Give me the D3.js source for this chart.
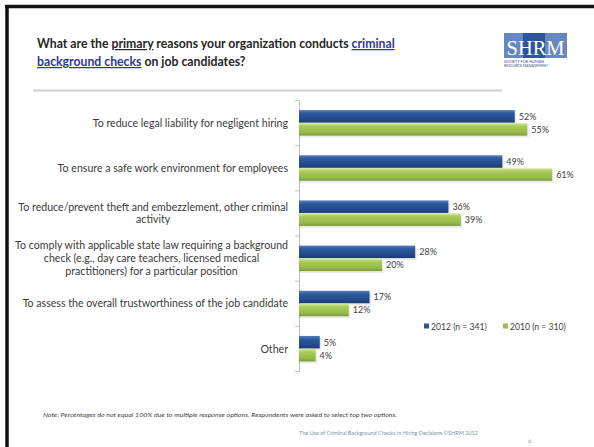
<!DOCTYPE html>
<html>
<head>
<meta charset="utf-8">
<script src="https://cdn.jsdelivr.net/npm/d3@7/dist/d3.min.js"></script>
<style>
  html, body { margin: 0; padding: 0; background: #fff; }
  svg { display: block; font-family: Lato, "Open Sans", sans-serif; }
</style>
</head>
<body>
<svg id="chart" width="594" height="447"></svg>
<script>
// Survey: primary reasons organizations run criminal background checks
const categories = [
  "To reduce legal liability for negligent hiring",
  "To ensure a safe work environment for employees",
  "To reduce/prevent theft and embezzlement, other criminal|activity",
  "To comply with applicable state law requiring a background|check (e.g., day care teachers, licensed medical|practitioners) for a particular position",
  "To assess the overall trustworthiness of the job candidate",
  "Other"
];
const seriesNames = ["2012 (n = 341)", "2010 (n = 310)"];
const values2012 = [52, 49, 36, 28, 17, 5];
const values2010 = [55, 61, 39, 20, 12, 4];
const seriesColors = ["#2a5191", "#9dc04c"];

const svg = d3.select("#chart");
const defs = svg.append("defs");

// Bevelled bar fills
const gradStops = [
  [["0%", "#5b7fbd"], ["25%", "#2e5aa0"], ["75%", "#24498a"], ["100%", "#1a3a72"]],
  [["0%", "#d3e99c"], ["25%", "#a8cb5a"], ["75%", "#96b94a"], ["100%", "#7a9a38"]]
];
gradStops.forEach((stops, i) => {
  const g = defs.append("linearGradient").attr("id", "grad" + i)
    .attr("x1", 0).attr("y1", 0).attr("x2", 0).attr("y2", 1);
  stops.forEach(s => g.append("stop").attr("offset", s[0]).attr("stop-color", s[1]));
});

// Slide frame
svg.append("rect").attr("x", 0).attr("y", 0).attr("width", 594).attr("height", 447).attr("fill", "#fff");
svg.append("line").attr("x1", 7).attr("x2", 7).attr("y1", 5).attr("y2", 447)
  .attr("stroke", "#111").attr("stroke-width", 3.5);
svg.append("line").attr("x1", 5).attr("x2", 594).attr("y1", 6.5).attr("y2", 6.5)
  .attr("stroke", "#111").attr("stroke-width", 3.5);

// Title
const titleSize = 12.25;
const title = svg.append("text").attr("x", 37).attr("y", 48)
  .attr("font-size", titleSize).attr("font-weight", "bold").attr("fill", "#262626");
const linkColor = "#2e3a94";
const t1 = [
  ["What are the ", null, false],
  ["primary", null, true],
  [" reasons your organization conducts ", null, false],
  ["criminal", linkColor, true]
];
t1.forEach(([s, c, u]) => {
  const ts = title.append("tspan").text(s);
  if (c) ts.attr("fill", c);
  if (u) ts.attr("text-decoration", "underline");
});
const title2 = svg.append("text").attr("x", 37).attr("y", 66)
  .attr("font-size", titleSize).attr("font-weight", "bold").attr("fill", "#262626");
title2.append("tspan").text("background checks").attr("fill", linkColor).attr("text-decoration", "underline");
title2.append("tspan").text(" on job candidates?");

// Separator under title
svg.append("line").attr("x1", 33).attr("x2", 502).attr("y1", 90.5).attr("y2", 90.5)
  .attr("stroke", "#d0d0d0").attr("stroke-width", 2);

// SHRM logo
const logo = svg.append("g").attr("transform", "translate(504,33)");
logo.append("rect").attr("width", 63).attr("height", 25).attr("fill", "#6688bf");
logo.append("rect").attr("x", 19).attr("width", 22).attr("height", 25).attr("fill", "#2d5599");
logo.append("text").attr("x", 31.5).attr("y", 21.5).attr("text-anchor", "middle")
  .style("font-family", "'Liberation Serif', 'DejaVu Serif', serif").attr("font-size", 22).attr("fill", "#fff")
  .attr("textLength", 58).attr("lengthAdjust", "spacingAndGlyphs").text("SHRM");
logo.append("text").attr("x", 0).attr("y", 29.5).attr("font-size", 4).attr("fill", "#3b4f82")
  .attr("textLength", 40).attr("lengthAdjust", "spacingAndGlyphs").text("SOCIETY FOR HUMAN");
logo.append("text").attr("x", 0).attr("y", 34).attr("font-size", 4).attr("fill", "#3b4f82")
  .attr("textLength", 44).attr("lengthAdjust", "spacingAndGlyphs").text("RESOURCE MANAGEMENT");

// Scales
const x = d3.scaleLinear().domain([0, 70]).range([299, 589.5]);
const y = d3.scaleBand().domain(categories).range([100.5, 371.5]);
const inner = d3.scaleBand().domain(seriesNames).range([0, 26]);
const offset = (y.bandwidth() - 26) / 2;

// Category axis
const axis = d3.axisLeft(y).tickSize(0).tickFormat(() => "");
const axisG = svg.append("g").attr("transform", "translate(299,0)").call(axis);
axisG.select(".domain").attr("stroke", "#bdbdbd").attr("stroke-width", 1);
// Tick marks on band boundaries
const bounds = categories.map(c => y(c)).concat([y.range()[1]]);
svg.append("g").selectAll("line").data(bounds).join("line")
  .attr("x1", 295).attr("x2", 299).attr("y1", d => d).attr("y2", d => d)
  .attr("stroke", "#bdbdbd");

// Category labels (multi-line, centred lines, right-aligned block)
const labelFont = 10.6;
const labelG = svg.append("g").attr("font-size", labelFont).attr("fill", "#3a3a3a");
categories.forEach(c => {
  const lines = c.split("|");
  const cy = y(c) + y.bandwidth() / 2;
  const lh = 12.8;
  // measure widest line to centre shorter lines under it
  const tmp = labelG.append("text");
  const widths = lines.map(l => { tmp.text(l); return tmp.node().getComputedTextLength(); });
  tmp.remove();
  const maxW = d3.max(widths);
  const right = 288;
  const centre = right - maxW / 2;
  lines.forEach((l, i) => {
    labelG.append("text")
      .attr("x", lines.length > 1 ? centre : right)
      .attr("text-anchor", lines.length > 1 ? "middle" : "end")
      .attr("y", cy + (i - (lines.length - 1) / 2) * lh + 3.6)
      .text(l);
  });
});

// Bars
const seriesValues = [values2012, values2010];
seriesValues.forEach((vals, si) => {
  const g = svg.append("g");
  const data = categories.map((c, i) => ({ c, v: vals[i] }));
  // faint shadow
  g.selectAll("rect.shadow").data(data).join("rect").attr("class", "shadow")
    .attr("x", x(0)).attr("y", d => y(d.c) + offset + inner(seriesNames[si]) + 1.5)
    .attr("width", d => x(d.v) - x(0) + 1.5).attr("height", inner.bandwidth())
    .attr("fill", "#000").attr("opacity", 0.08);
  g.selectAll("rect.bar").data(data).join("rect").attr("class", "bar")
    .attr("x", x(0)).attr("y", d => y(d.c) + offset + inner(seriesNames[si]))
    .attr("width", d => x(d.v) - x(0)).attr("height", inner.bandwidth() - 0.5)
    .attr("fill", `url(#grad${si})`);
  g.selectAll("text").data(data).join("text")
    .attr("x", d => x(d.v) + 4)
    .attr("y", d => y(d.c) + offset + inner(seriesNames[si]) + inner.bandwidth() / 2 + 3.2)
    .attr("font-size", 9).attr("fill", "#404040")
    .text(d => d.v + "%");
});

// Legend
const legend = svg.append("g").attr("font-size", 8.6).attr("fill", "#404040");
const legendX = [424, 503];
seriesNames.forEach((n, i) => {
  legend.append("rect").attr("x", legendX[i]).attr("y", 323.5).attr("width", 5).attr("height", 5)
    .attr("fill", seriesColors[i]);
  legend.append("text").attr("x", legendX[i] + 7).attr("y", 329.5).text(n);
});

// Note and footer
svg.append("text").attr("x", 43).attr("y", 417).attr("font-size", 6)
  .attr("font-style", "italic").attr("fill", "#444")
  .attr("textLength", 354).attr("lengthAdjust", "spacingAndGlyphs")
  .text("Note: Percentages do not equal 100% due to multiple response options. Respondents were asked to select top two options.");
svg.append("text").attr("x", 299).attr("y", 435).attr("font-size", 6)
  .attr("fill", "#7f8fb0")
  .attr("textLength", 179).attr("lengthAdjust", "spacingAndGlyphs")
  .text("The Use of Criminal Background Checks in Hiring Decisions ©SHRM 2012");
svg.append("text").attr("x", 528).attr("y", 443).attr("font-size", 6)
  .attr("fill", "#999").text("6");
</script>
</body>
</html>
